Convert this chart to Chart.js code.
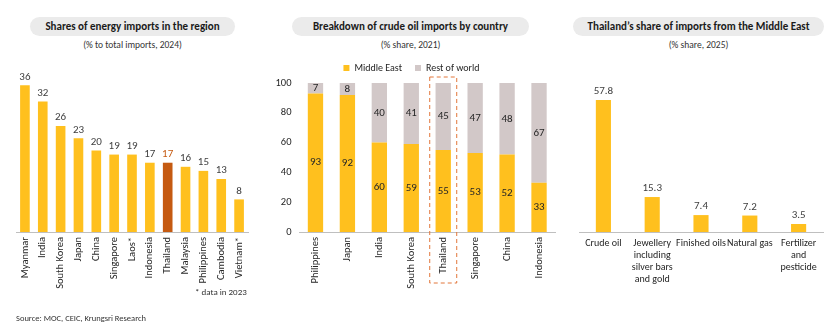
<!DOCTYPE html>
<html>
<head>
<meta charset="utf-8">
<script src="https://cdn.jsdelivr.net/npm/chart.js@4.4.1/dist/chart.umd.min.js"></script>
<style>
  body { margin: 0; width: 840px; height: 333px; background: #fff; position: relative; overflow: hidden;
         font-family: 'Carlito', 'Lato', sans-serif; color: #262626; }
  .pill { position: absolute; top: 17px; height: 19px; line-height: 19px; border-radius: 10px;
          background: #ebebeb; text-align: center; font-weight: bold; font-size: 11px; color: #1a1a1a; }
  .sub { position: absolute; top: 39px; font-size: 9.5px; text-align: center; color: #333; }
  .box { position: absolute; }
  .note { position: absolute; font-size: 9px; color: #333; }
</style>
</head>
<body>
<div class="pill" style="left:30px;width:205px">Shares of energy imports in the region</div>
<div class="sub" style="left:30px;width:205px">(% to total imports, 2024)</div>
<div class="pill" style="left:292px;width:237px">Breakdown of crude oil imports by country</div>
<div class="sub" style="left:292px;width:237px">(% share, 2021)</div>
<div class="pill" style="left:573px;width:251px">Thailand’s share of imports from the Middle East</div>
<div class="sub" style="left:573px;width:251px">(% share, 2025)</div>

<div class="box" style="left:0;top:50px"><canvas id="energyChart" width="262" height="250"></canvas></div>
<div class="box" style="left:268px;top:50px"><canvas id="crudeChart" width="297" height="250"></canvas></div>
<div class="box" style="left:570px;top:50px"><canvas id="meChart" width="265" height="250"></canvas></div>

<div class="note" style="left:195px;top:286px">* data in 2023</div>
<div class="note" style="left:16px;top:313px;font-size:8.5px">Source: MOC, CEIC, Krungsri Research</div>

<script>
// energy imports share by country, 2024
const energyCountries = ['Myanmar', 'India', 'South Korea', 'Japan', 'China', 'Singapore', 'Laos*',
  'Indonesia', 'Thailand', 'Malaysia', 'Philippines', 'Cambodia', 'Vietnam*'];
const energyShares = [36, 32, 26, 23, 20, 19, 19, 17, 17, 16, 15, 13, 8];

// crude oil imports by source, 2021
const crudeCountries = ['Philippines', 'Japan', 'India', 'South Korea', 'Thailand', 'Singapore', 'China', 'Indonesia'];
const crudeMiddleEast = [93, 92, 60, 59, 55, 53, 52, 33];
const crudeRestOfWorld = [7, 8, 40, 41, 45, 47, 48, 67];

// Thai imports from the Middle East, 2025
const meProducts = [['Crude oil'], ['Jewellery', 'including', 'silver bars', 'and gold'], ['Finished oils'],
  ['Natural gas'], ['Fertilizer', 'and', 'pesticide']];
const meShares = [57.8, 15.3, 7.4, 7.2, 3.5];

const yellow = '#FFC01E';
const orange = '#C55A11';
const grey = '#D2C8C8';
const axisGrey = '#BFBFBF';
const fontFamily = "'Carlito', 'Lato', sans-serif";
Chart.defaults.font.family = fontFamily;
Chart.defaults.color = '#262626';
Chart.defaults.animation = false;

// writes the value on every bar, either above it or in the middle of the segment
const valueLabels = {
  id: 'valueLabels',
  afterDatasetsDraw(chart, args, opts) {
    const ctx = chart.ctx;
    chart.data.datasets.forEach((ds, di) => {
      const meta = chart.getDatasetMeta(di);
      meta.data.forEach((bar, i) => {
        const v = ds.data[i];
        ctx.save();
        ctx.font = (opts.size || 11) + 'px ' + fontFamily;
        ctx.fillStyle = typeof opts.color === 'function' ? opts.color(i) : (opts.color || '#262626');
        ctx.textAlign = 'center';
        let txt = opts.decimals ? v.toFixed(opts.decimals) : String(v);
        if (opts.inside) {
          ctx.textBaseline = 'middle';
          ctx.fillText(txt, bar.x, (bar.y + bar.base) / 2);
        } else {
          ctx.textBaseline = 'bottom';
          ctx.fillText(txt, bar.x, bar.y - 3);
        }
        ctx.restore();
      });
    });
  }
};

// dashed frame around one category
const highlightBox = {
  id: 'highlightBox',
  afterDraw(chart, args, opts) {
    if (opts.index === undefined) return;
    const x = chart.scales.x.getPixelForValue(opts.index);
    const top = chart.scales.y.getPixelForValue(100) - 6;
    const bottom = chart.chartArea.bottom + 51;
    const ctx = chart.ctx;
    ctx.save();
    ctx.strokeStyle = '#E2763A';
    ctx.lineWidth = 1;
    ctx.setLineDash([4, 3]);
    ctx.strokeRect(x - 13.5, top, 27, bottom - top);
    ctx.restore();
  }
};

function xAxis(rotate, height, size) {
  return {
    grid: { display: false, drawTicks: false },
    border: { color: axisGrey },
    ticks: { autoSkip: false, maxRotation: rotate, minRotation: rotate, padding: 5,
             font: { size: size || 10.5 }, color: '#262626' },
    afterFit(scale) { scale.height = height; }
  };
}

new Chart('energyChart', {
  type: 'bar',
  data: {
    labels: energyCountries,
    datasets: [{
      data: energyShares,
      backgroundColor: energyCountries.map(c => c === 'Thailand' ? orange : yellow),
      barPercentage: 0.54, categoryPercentage: 1
    }]
  },
  options: {
    responsive: false,
    layout: { padding: { left: 16, right: 14, top: 19 } },
    plugins: {
      legend: { display: false }, tooltip: { enabled: false },
      valueLabels: { color: i => energyCountries[i] === 'Thailand' ? orange : '#404040' }
    },
    scales: {
      x: xAxis(90, 68),
      y: { display: false, min: 0, max: 40 }
    }
  },
  plugins: [valueLabels]
});

new Chart('crudeChart', {
  type: 'bar',
  data: {
    labels: crudeCountries,
    datasets: [
      { label: 'Middle East', data: crudeMiddleEast, backgroundColor: yellow, barPercentage: 0.48, categoryPercentage: 1 },
      { label: 'Rest of world', data: crudeRestOfWorld, backgroundColor: grey, barPercentage: 0.48, categoryPercentage: 1 }
    ]
  },
  options: {
    responsive: false,
    layout: { padding: { right: 10 } },
    plugins: {
      legend: { position: 'top', labels: { boxWidth: 6, boxHeight: 6, padding: 13, font: { size: 10 }, color: '#262626' } },
      tooltip: { enabled: false },
      valueLabels: { inside: true, color: '#262626' },
      highlightBox: { index: 4 }
    },
    scales: {
      x: Object.assign(xAxis(90, 68), { stacked: true }),
      y: {
        stacked: true, min: 0, max: 100,
        grid: { display: false, drawTicks: false },
        border: { display: false },
        ticks: { stepSize: 10, padding: 8, font: { size: 10.5 }, color: '#262626' },
        afterFit(scale) { scale.width = 31.5; }
      }
    }
  },
  plugins: [valueLabels, highlightBox]
});

new Chart('meChart', {
  type: 'bar',
  data: {
    labels: meProducts,
    datasets: [{ data: meShares, backgroundColor: yellow, barPercentage: 0.31, categoryPercentage: 1 }]
  },
  options: {
    responsive: false,
    layout: { padding: { left: 9, right: 12, top: 22 } },
    plugins: {
      legend: { display: false }, tooltip: { enabled: false },
      valueLabels: { decimals: 1, color: '#404040' }
    },
    scales: {
      x: xAxis(0, 68, 10),
      y: { display: false, min: 0, max: 70 }
    }
  },
  plugins: [valueLabels]
});
</script>
</body>
</html>
